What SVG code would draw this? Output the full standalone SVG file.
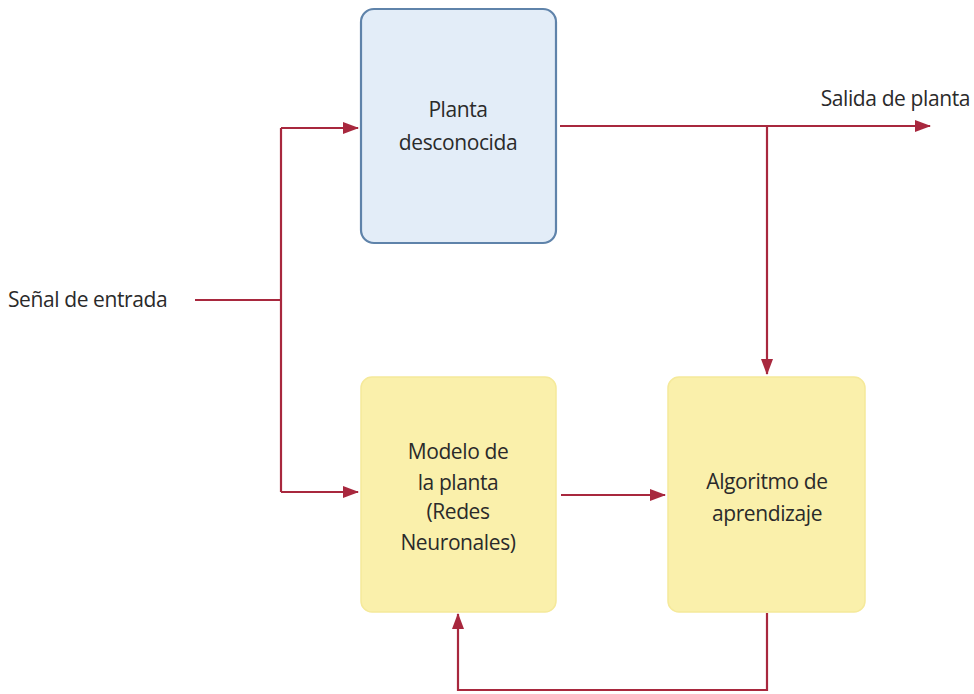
<svg xmlns="http://www.w3.org/2000/svg" width="974" height="694" viewBox="0 0 974 694">
<style>
.lbl{font-family:"Open Sans","Liberation Sans",sans-serif;font-size:21px;fill:#2a2a2a;letter-spacing:-0.4px}
.c{text-anchor:middle}
.ln{fill:none;stroke:#a8283e;stroke-width:2.2}
</style>
<defs>
<marker id="ah2" markerWidth="16" markerHeight="12" refX="15" refY="6" orient="auto" markerUnits="userSpaceOnUse">
<path d="M0,0 L16,6 L0,12 Z" fill="#a8283e"/>
</marker>
</defs>
<rect width="974" height="694" fill="#ffffff"/>
<g id="planta">
<rect x="361" y="9" width="195" height="234" rx="13" fill="#e3edf8" stroke="#5f83aa" stroke-width="2.2"/>
<text class="lbl c" x="458" y="117">Planta</text>
<text class="lbl c" x="458" y="150">desconocida</text>
</g>
<g id="modelo">
<rect x="361" y="377" width="195" height="235" rx="11" fill="#faf0ab" stroke="#f5e99a" stroke-width="1.5"/>
<text class="lbl c" x="458" y="459">Modelo de</text>
<text class="lbl c" x="458" y="490">la planta</text>
<text class="lbl c" x="458" y="519">(Redes</text>
<text class="lbl c" x="458" y="550">Neuronales)</text>
</g>
<g id="algoritmo">
<rect x="668" y="377" width="197" height="235" rx="11" fill="#faf0ab" stroke="#f5e99a" stroke-width="1.5"/>
<text class="lbl c" x="767" y="489">Algoritmo de</text>
<text class="lbl c" x="767" y="521">aprendizaje</text>
</g>
<g id="labels">
<text class="lbl" x="8" y="307">Señal de entrada</text>
<text class="lbl" x="970" y="106" text-anchor="end">Salida de planta</text>
</g>
<g id="connectors">
<path class="ln" d="M195,300 H281"/>
<path class="ln" d="M281,128 V492"/>
<path class="ln" d="M281,128 H358" marker-end="url(#ah2)"/>
<path class="ln" d="M281,492 H358" marker-end="url(#ah2)"/>
<path class="ln" d="M560,126 H930" marker-end="url(#ah2)"/>
<path class="ln" d="M767,126 V374" marker-end="url(#ah2)"/>
<path class="ln" d="M561,495 H665" marker-end="url(#ah2)"/>
<path class="ln" d="M767,613 V690 H458 V614" marker-end="url(#ah2)"/>
</g>
</svg>
